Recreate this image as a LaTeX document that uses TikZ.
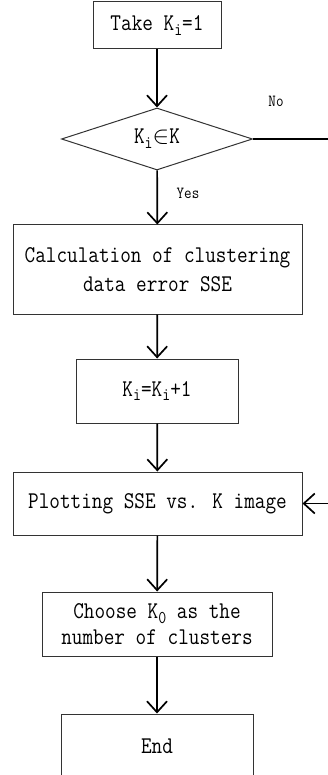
\documentclass[tikz,border=0pt]{standalone}
\usepackage{fontspec}
\newfontfamily\boxfont{Latin Modern Mono}[FakeStretch=0.86]
\usetikzlibrary{arrows.meta,shapes.geometric}
\newcommand{\mysub}[1]{\raisebox{-0.2em}{\fontsize{18}{18}\selectfont #1}}
\begin{document}
\begin{tikzpicture}[x=1pt,y=-1pt,
  box/.style={draw=black!80,line width=1pt,rectangle,inner sep=0pt,align=center,
    font=\boxfont\fontsize{24}{29}\selectfont},
  decbox/.style={draw=black!80,line width=1pt,diamond,aspect=3.08,inner sep=0pt,
    minimum width=191pt,minimum height=62pt,font=\boxfont\fontsize{24}{29}\selectfont},
  arr/.style={line width=1.7pt,-{Straight Barb[length=11pt,width=20pt,line width=1.7pt]}},
  lbl/.style={font=\boxfont\fontsize{17}{17}\selectfont,inner sep=0pt}]
\useasboundingbox (0,0) rectangle (327,775);
\node[box,minimum width=128pt,minimum height=47pt] (take) at (157,25.5) {Take K\mysub{i}=1};
\node[decbox] (dec) at (157,139) {K\mysub{i}$\in$K};
\node[box,minimum width=289pt,minimum height=89pt] (calc) at (157.5,269.5) {Calculation of clustering\\data error SSE};
\node[box,minimum width=162pt,minimum height=64pt] (inc) at (157,391) {K\mysub{i}=K\mysub{i}+1};
\node[box,minimum width=289pt,minimum height=63pt] (plot) at (157.5,503.5) {Plotting SSE vs. K image};
\node[box,minimum width=230pt,minimum height=64pt,font=\boxfont\fontsize{24}{26}\selectfont] (choose) at (157,624) {Choose K\mysub{0} as the\\number of clusters};
\node[box,minimum width=192pt,minimum height=64pt] (end) at (157,746) {End};
\node[lbl] (no) at (276,101) {No};
\node[lbl] (yes) at (188,193) {Yes};
\coordinate (r1) at (345,139);
\draw[arr] (take) -- (dec);
\draw[arr] (dec) -- (calc);
\draw[arr] (calc) -- (inc);
\draw[arr] (inc) -- (plot);
\draw[arr] (plot) -- (choose);
\draw[arr] (choose) -- (end);
\draw[arr] (dec.east) -- (r1) |- (plot.east);
\end{tikzpicture}
\end{document}
